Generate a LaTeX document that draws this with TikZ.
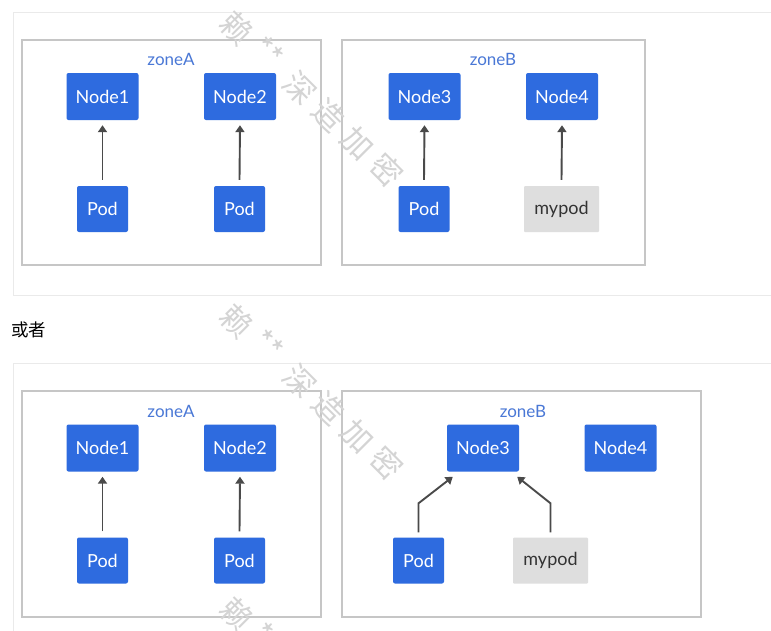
\documentclass[tikz,border=0pt]{standalone}
\usepackage{fontspec}
\setmainfont{Lato}
\newfontfamily\cjk{Noto Sans CJK SC}
\usetikzlibrary{arrows.meta,calc}
\definecolor{boxblue}{HTML}{2E6BDF}
\definecolor{zonetext}{HTML}{4A78D6}
\definecolor{zoneline}{HTML}{C6C6C6}
\definecolor{panelline}{HTML}{EAEAEA}
\definecolor{podgray}{HTML}{DEDEDE}
\definecolor{arrowgray}{HTML}{4A4A4A}
\definecolor{marktext}{HTML}{D4D4D4}
\tikzset{
  panel/.style={draw=panelline, line width=1pt},
  zone/.style={draw=zoneline, line width=1.6pt},
  zonelabel/.style={text=zonetext, font=\fontsize{17}{19}\selectfont, inner sep=0pt},
  nodebox/.style={fill=boxblue, text=white, rounded corners=2pt,
    minimum width=72pt, minimum height=47pt, inner sep=0pt,
    font=\fontsize{18}{20}\selectfont},
  podbox/.style={nodebox, minimum width=51pt, minimum height=46pt},
  mypodbox/.style={fill=podgray, text=black!80, rounded corners=1pt,
    minimum width=75pt, minimum height=46pt, inner sep=0pt,
    font=\fontsize{18}{20}\selectfont},
  link/.style={draw=arrowgray, line width=1.9pt,
    -{Triangle[length=7pt,width=9pt]}},
  wm/.style={text=marktext, rotate=-45, inner sep=0pt,
    font=\cjk\fontsize{31}{33}\selectfont}
}
\begin{document}
\begin{tikzpicture}[x=1pt,y=-1pt]
\useasboundingbox (0,0) rectangle (771,630);
\fill[white] (0,0) rectangle (771,630);
\begin{scope}
\clip (0,0) rectangle (771,630);

% outer panels
\draw[panel] (13,12) rectangle (800,295);
\draw[panel] (13,363) rectangle (800,660);

% ---------- first layout ----------
\draw[zone] (22,40) rectangle (321,265);
\draw[zone] (342,40) rectangle (645,265);
\node[zonelabel] (za1) at (171,59) {zoneA};
\node[zonelabel] (zb1) at (493,59) {zoneB};

\node[nodebox] (n1a) at (102.5,96.5) {Node1};
\node[nodebox] (n2a) at (240,96.5) {Node2};
\node[nodebox] (n3a) at (424.5,96.5) {Node3};
\node[nodebox] (n4a) at (562,96.5) {Node4};
\node[podbox] (p1a) at (102.5,209) {Pod};
\node[podbox] (p2a) at (239.5,209) {Pod};
\node[podbox] (p3a) at (424,209) {Pod};
\node[mypodbox] (mpa) at (561.5,209) {mypod};

\draw[link] ($(p1a.north)+(0,-6)$) -- ($(n1a.south)+(0,5)$);
\draw[link] ($(p2a.north)+(0,-6)$) -- ($(n2a.south)+(0,5)$);
\draw[link] ($(p3a.north)+(0,-6)$) -- ($(n3a.south)+(0,5)$);
\draw[link] ($(mpa.north)+(0,-6)$) -- ($(n4a.south)+(0,5)$);

% ---------- alternative layout ----------
\node[font=\cjk\fontsize{17.5}{19}\selectfont, anchor=west, inner sep=0pt] (or) at (11,330) {或者};

\draw[zone] (22,391) rectangle (321,617);
\draw[zone] (342,391) rectangle (701,617);
\node[zonelabel] (za2) at (171,411) {zoneA};
\node[zonelabel] (zb2) at (523,411) {zoneB};

\node[nodebox] (n1b) at (102.5,448) {Node1};
\node[nodebox] (n2b) at (240,448) {Node2};
\node[nodebox] (n3b) at (483,448) {Node3};
\node[nodebox] (n4b) at (620.5,448) {Node4};
\node[podbox] (p1b) at (102.5,560.5) {Pod};
\node[podbox] (p2b) at (239.5,560.5) {Pod};
\node[podbox] (p3b) at (418.5,560.5) {Pod};
\node[mypodbox] (mpb) at (550.5,560.5) {mypod};

\draw[link] ($(p1b.north)+(0,-6)$) -- ($(n1b.south)+(0,5)$);
\draw[link] ($(p2b.north)+(0,-6)$) -- ($(n2b.south)+(0,5)$);
\draw[link] ($(p3b.north)+(0,-5)$) -- ++(0,-29) -- ($(n3b.south west)+(6,5)$);
\draw[link] ($(mpb.north)+(0,-5)$) -- ++(0,-29) -- ($(n3b.south east)+(-2,5)$);

% watermark, repeated down the page
\foreach \dy in {0,293,586}{
  \node[wm] at (237,28+\dy) {赖};
  \node[wm] at (268,52+\dy) {**};
  \node[wm] at (300,88+\dy) {深};
  \node[wm] at (329,115+\dy) {造};
  \node[wm] at (358,143+\dy) {加};
  \node[wm] at (387,170+\dy) {密};
}
\end{scope}
\end{tikzpicture}
\end{document}
